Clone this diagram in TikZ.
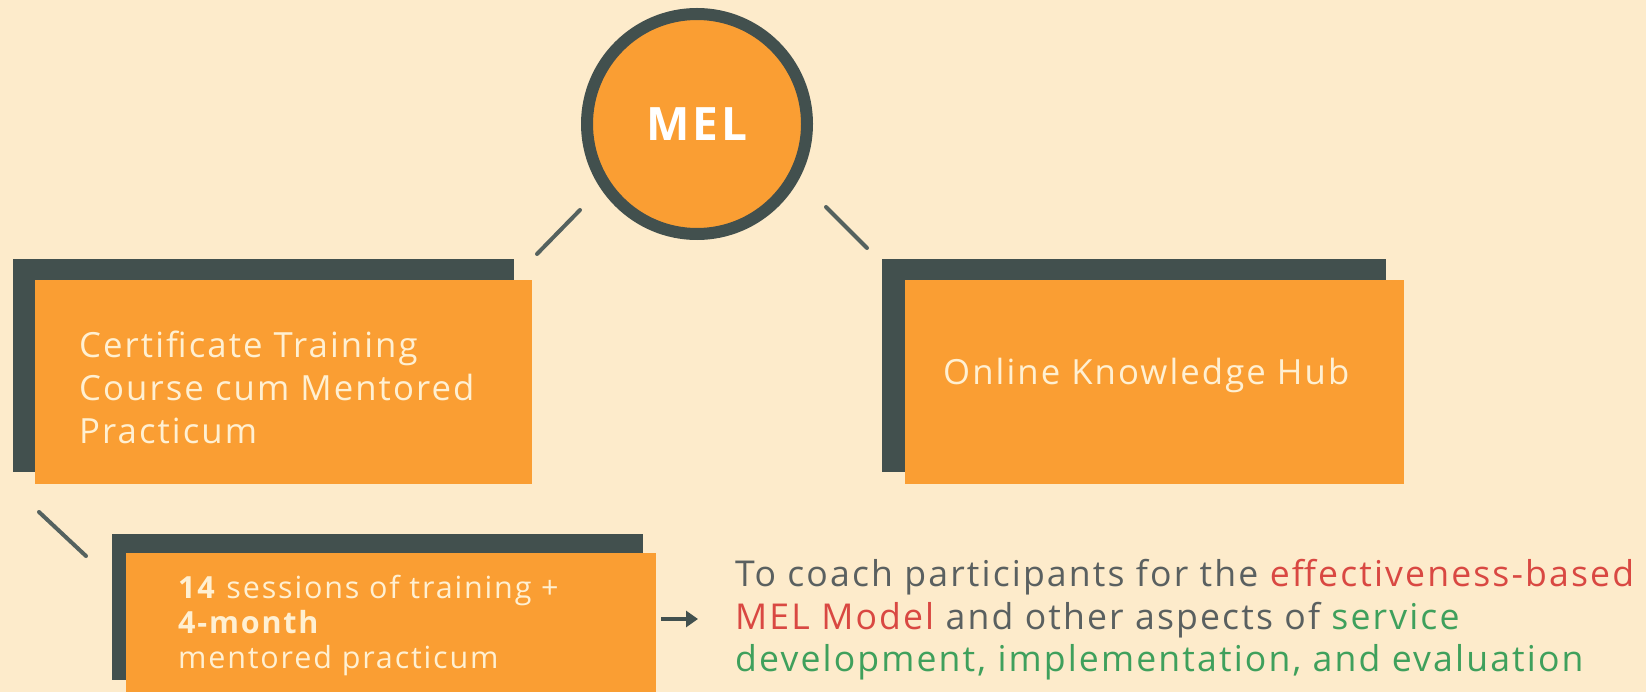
\documentclass[tikz,border=0pt]{standalone}
\usepackage{fontspec}
\setmainfont{Open Sans}[LetterSpace=6]
\usetikzlibrary{arrows.meta}
\definecolor{bg}{HTML}{FDEBCB}
\definecolor{orng}{HTML}{FA9E33}
\definecolor{slate}{HTML}{42504E}
\definecolor{boxtext}{HTML}{FFF0D2}
\definecolor{graytext}{HTML}{5A6060}
\definecolor{redtext}{HTML}{D94842}
\definecolor{greentext}{HTML}{3FA05C}
\definecolor{linecol}{HTML}{55625F}
\tikzset{
  shadowbox/.style={fill=slate, draw=none, anchor=north west, inner sep=0pt},
  mainbox/.style={fill=orng, draw=none, anchor=north west, inner sep=0pt},
  boxlabel/.style={text=boxtext, anchor=west, inner sep=0pt, align=left},
  tick/.style={draw=linecol, line width=4pt, line cap=round},
}
\begin{document}
\begin{tikzpicture}[x=1pt,y=-1pt]
\useasboundingbox[fill=bg] (0,0) rectangle (1646,692);

% MEL circle
\node[circle, fill=orng, draw=slate, line width=12pt, minimum size=220pt, inner sep=0pt,
      text=white, font={\fontsize{46}{50}\selectfont\bfseries}] (mel) at (697,124) {MEL};

% left box
\node[shadowbox, minimum width=501pt, minimum height=213pt] (certsh) at (13,259) {};
\node[mainbox, minimum width=497pt, minimum height=204pt] (cert) at (35,280) {};
\node[boxlabel, font={\fontsize{34.7}{43}\selectfont}] (certtxt) at (79,387)
  {Certificate Training\\Course cum Mentored\\Practicum};

% right box
\node[shadowbox, minimum width=504pt, minimum height=213pt] (hubsh) at (882,259) {};
\node[mainbox, minimum width=499pt, minimum height=204pt] (hub) at (905,280) {};
\node[boxlabel, font={\fontsize{34.7}{43}\selectfont}] (hubtxt) at (943,375)
  {Online Knowledge Hub};

% bottom box
\node[shadowbox, minimum width=531pt, minimum height=146pt] (sesssh) at (112,534) {};
\node[mainbox, minimum width=530pt, minimum height=160pt] (sess) at (126,553) {};
\node[boxlabel, font={\fontsize{30.5}{35}\selectfont}] (sesstxt) at (178,625)
  {\textbf{14} sessions of training +\\\textbf{4-month}\\mentored practicum};

% description
\node[anchor=west, inner sep=0pt, align=left, text=graytext,
      font={\fontsize{35.6}{42.5}\selectfont}] (desc) at (735,620)
  {To coach participants for the \textcolor{redtext}{effectiveness-based}\\
   \textcolor{redtext}{MEL Model} and other aspects of \textcolor{greentext}{service}\\
   \textcolor{greentext}{development, implementation, and evaluation}};

% tick connectors
\coordinate (t1a) at (537,254); \coordinate (t1b) at (580,210);
\coordinate (t2a) at (826,207); \coordinate (t2b) at (867,248);
\coordinate (t3a) at (39,512);  \coordinate (t3b) at (86,556);
\draw[tick] (t1a) -- (t1b);
\draw[tick] (t2a) -- (t2b);
\draw[tick] (t3a) -- (t3b);

% arrow
\draw[draw=slate, line width=4pt, -{Triangle[length=12pt,width=16pt]}]
  ([xshift=5pt]sess.east |- 0,619) -- ([xshift=-37pt]desc.west |- 0,619);
\end{tikzpicture}
\end{document}
